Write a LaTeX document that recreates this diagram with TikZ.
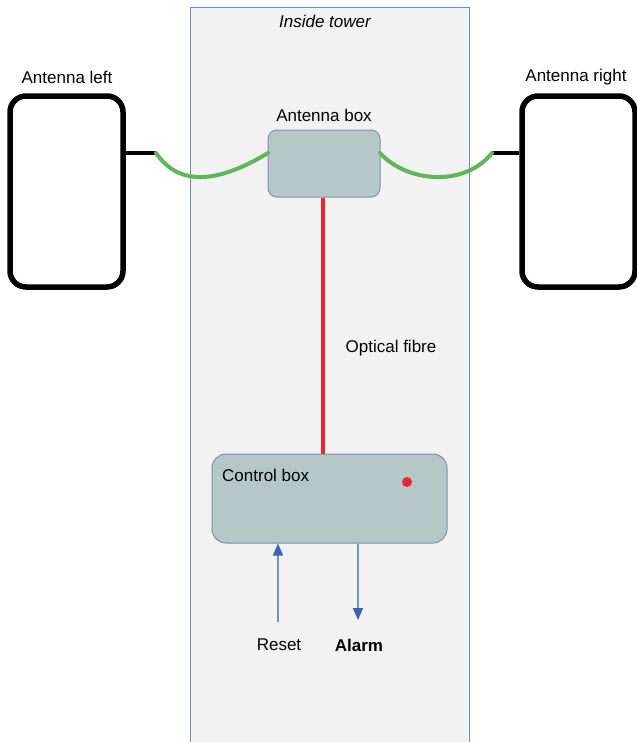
\documentclass[tikz,border=0pt]{standalone}
\usepackage{fontspec}
\setmainfont{Liberation Sans}
\usetikzlibrary{arrows.meta,calc}
\definecolor{towerfill}{RGB}{242,242,242}
\definecolor{towerline}{RGB}{110,140,180}
\definecolor{boxfill}{RGB}{182,199,200}
\definecolor{boxline}{RGB}{125,145,170}
\definecolor{cablegreen}{RGB}{96,182,88}
\definecolor{fibrered}{RGB}{232,40,45}
\definecolor{arrline}{RGB}{120,145,180}
\definecolor{arrhead}{RGB}{55,100,170}
\begin{document}
\begin{tikzpicture}[x=1pt,y=-1pt,
  every node/.style={font=\fontsize{17}{20}\selectfont},
  antenna/.style={draw=black,line width=5.5pt,rounded corners=16pt,fill=white,minimum width=113pt,minimum height=191pt,inner sep=0pt},
  graybox/.style={draw=boxline,line width=1pt,fill=boxfill,inner sep=0pt},
  stub/.style={draw=black,line width=4.5pt},
  cable/.style={draw=cablegreen,line width=4pt,line cap=round},
  fibre/.style={draw=fibrered,line width=4pt},
  sig/.style={draw=arrline,line width=1.5pt,-{Triangle[width=10pt,length=12pt,color=arrhead]}},
  lbl/.style={inner sep=0pt}]
\useasboundingbox (0,0) rectangle (637,742);
\fill[white] (0,0) rectangle (637,742);
% tower
\fill[towerfill] (190,7) rectangle (469,760);
\draw[towerline,line width=1pt] (190,760) -- (190,7) -- (469,7) -- (469,760);
\node[lbl,font=\fontsize{17}{20}\selectfont\itshape] (tower) at (325,21) {Inside tower};
% antennas
\node[antenna] (al) at (66.5,191.5) {};
\node[antenna] (ar) at (578.5,191.5) {};
\node[lbl] (allbl) at (67,77) {Antenna left};
\node[lbl] (arlbl) at (576,77) {Antenna right};
% antenna box
\node[graybox,rounded corners=9pt,minimum width=112pt,minimum height=67pt] (ab) at (324,163.5) {};
\node[lbl] (ablbl) at (324,115) {Antenna box};
% control box
\node[graybox,rounded corners=14pt,minimum width=235pt,minimum height=89pt] (cb) at (329.5,498.5) {};
\node[lbl,anchor=west] (cblbl) at (222,475) {Control box};
\node[circle,fill=fibrered,inner sep=0pt,minimum size=10pt] (dot) at (407,482) {};
% stubs and cables
\coordinate (gl) at (156,153);
\coordinate (gr) at (492,153);
\coordinate (abl) at (268,153);
\coordinate (abr) at (380,153);
\draw[stub] (al.east |- gl) -- (gl);
\draw[stub] (gr) -- (ar.west |- gr);
\draw[cable] (gl) .. controls (180,188) and (220,182) .. (abl);
\draw[cable] (abr) .. controls (406,182) and (464,188) .. (gr);
% fibre
\draw[fibre] (ab.south -| 323,0) -- (cb.north -| 323,0);
\node[lbl] (fiblbl) at (391,348) {Optical fibre};
% signals
\coordinate (rs) at (278,622);
\coordinate (am) at (358,620);
\draw[sig] (rs) -- (rs |- cb.south);
\draw[sig] (am |- cb.south) -- (am);
\node[lbl] (rslbl) at (279,645) {Reset};
\node[lbl,font=\fontsize{17}{20}\selectfont\bfseries] (amlbl) at (359,645) {Alarm};
\end{tikzpicture}
\end{document}
